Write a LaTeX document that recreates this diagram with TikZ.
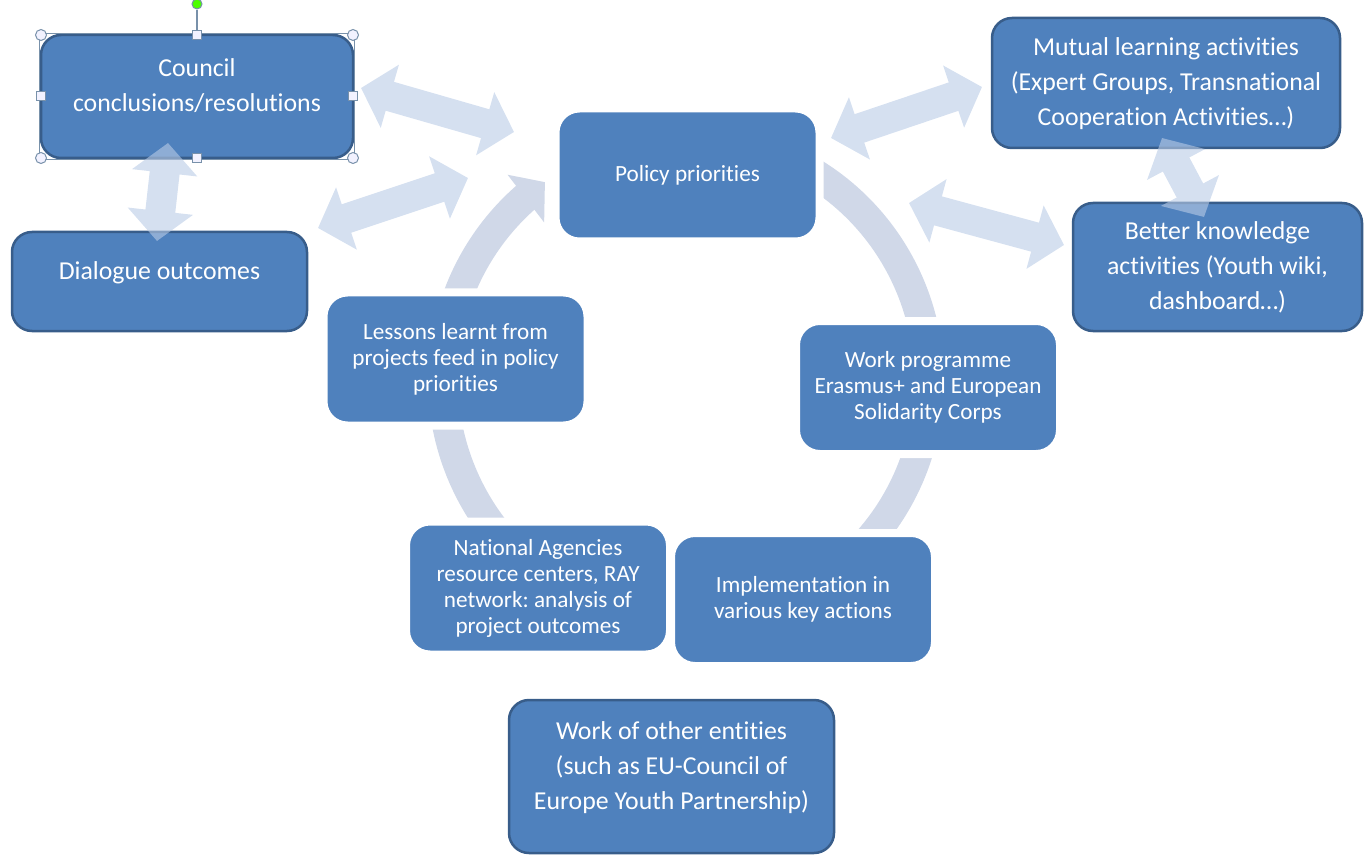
\documentclass[tikz,border=0pt]{standalone}
\usepackage{fontspec}
\setmainfont{Carlito}[Ligatures=NoCommon]
\usepackage{tikz}
\usetikzlibrary{arrows.meta,calc}
\definecolor{boxblue}{RGB}{79,129,189}
\definecolor{boxline}{RGB}{56,93,138}
\definecolor{ringcol}{RGB}{208,216,232}
\definecolor{arrcol}{RGB}{185,203,230}
\definecolor{handlecol}{RGB}{120,145,170}
\frenchspacing

\begin{document}
\begin{tikzpicture}[x=0.5pt,y=-0.5pt,
  main node/.style={rectangle,rounded corners=10pt,fill=boxblue,draw=boxline,line width=1.25pt,
    text=white,align=center,text depth=1pt,font=\fontsize{12.9}{17.5}\selectfont},
  cycle node/.style={rectangle,rounded corners=12pt,fill=boxblue,draw=white,line width=4pt,
    text=white,align=center,minimum width=132pt,minimum height=66.5pt,font=\fontsize{11.6}{13}\selectfont},
  lift/.style={text depth=11pt},
  dbl/.style={{Triangle[width=32pt,length=15pt]}-{Triangle[width=32pt,length=15pt]},line width=15pt,draw=arrcol},
  handle/.style={draw=handlecol,line width=0.5pt,fill=blue!5}]

\useasboundingbox (0,0) rectangle (1368,855);

% cycle arrow
\coordinate (O) at (686,380);
\draw[ringcol,line width=15pt] ($(O)+(-70:243)$) arc[start angle=-70,end angle=230,radius=243];
\fill[ringcol] ($(O)+(229:272)$) -- ($(O)+(234.5:243)$) -- ($(O)+(228:212)$) -- cycle;

\node[cycle node] (P) at (687.5,175) {Policy priorities};
\node[cycle node] (W) at (928,387.5) {Work programme\\Erasmus+ and European\\Solidarity Corps};
\node[cycle node] (I) at (803,599.5) {Implementation in\\various key actions};
\node[cycle node] (N) at (538,588) {National Agencies\\resource centers, RAY\\network: analysis of\\project outcomes};
\node[cycle node] (L) at (455.5,359) {Lessons learnt from\\projects feed in policy\\priorities};

\node[main node,lift,minimum width=156pt,minimum height=61.5pt] (C) at (197,96.5) {Council\\conclusions/resolutions};
\node[main node,lift,minimum width=147.5pt,minimum height=49.5pt] (D) at (159.5,281.5) {Dialogue outcomes};
\node[main node,minimum width=174pt,minimum height=65pt] (M) at (1166,83) {Mutual learning activities\\(Expert Groups, Transnational\\Cooperation Activities…)};
\node[main node,minimum width=144.5pt,minimum height=64pt] (B) at (1217.5,267) {Better knowledge\\activities (Youth wiki,\\dashboard…)};
\node[main node,lift,minimum width=162.5pt,minimum height=76.5pt] (E) at (671.5,776.5) {Work of other entities\\(such as EU-Council of\\Europe Youth Partnership)};

% selection handles
\draw[handlecol,line width=0.5pt] (C.north west) rectangle (C.south east);
\draw[handlecol,line width=0.8pt] (C.north) -- (197,10);
\draw[handlecol,fill=green!60!lime,line width=0.5pt] (197,4) circle[radius=5];
\foreach \x/\y in {41/35,353/35,41/158,353/158}
  \draw[handle] (\x,\y) circle[radius=5.5];
\foreach \x/\y in {197/35,197/158,41/96.5,353/96.5}
  \draw[handle] (\x-4.5,\y-4.5) rectangle +(9,9);

\coordinate (a1) at (361,88);   \coordinate (a2) at (514,132);
\coordinate (b1) at (318,228);  \coordinate (b2) at (468,178);
\coordinate (c1) at (168,143);  \coordinate (c2) at (157,241);
\coordinate (d1) at (831,138);  \coordinate (d2) at (982,87);
\coordinate (e1) at (909,203);  \coordinate (e2) at (1064,245);
\coordinate (f1) at (1162,138); \coordinate (f2) at (1204,217);

\begin{scope}[transparency group,opacity=0.6]
\path (a1) edge[dbl] (a2)
      (b1) edge[dbl] (b2)
      (c1) edge[dbl] (c2)
      (d1) edge[dbl] (d2)
      (e1) edge[dbl] (e2)
      (f1) edge[dbl] (f2);
\end{scope}

\end{tikzpicture}
\end{document}
